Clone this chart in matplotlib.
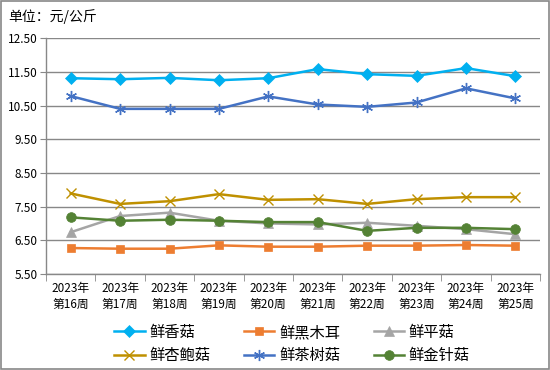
import matplotlib
matplotlib.use("Agg")
import matplotlib.pyplot as plt
import numpy as np

plt.rcParams['font.family'] = ['Noto Sans CJK SC', 'DejaVu Sans']

weeks = ['2023年\n第16周', '2023年\n第17周', '2023年\n第18周', '2023年\n第19周', '2023年\n第20周',
         '2023年\n第21周', '2023年\n第22周', '2023年\n第23周', '2023年\n第24周', '2023年\n第25周']

xianggu = [11.31, 11.28, 11.32, 11.25, 11.31, 11.58, 11.43, 11.38, 11.61, 11.37]
heimuer = [6.27, 6.25, 6.25, 6.35, 6.31, 6.31, 6.34, 6.34, 6.36, 6.34]
pinggu = [6.74, 7.22, 7.32, 7.08, 7.00, 6.97, 7.02, 6.93, 6.83, 6.68]
xingbaogu = [7.89, 7.58, 7.66, 7.87, 7.70, 7.72, 7.58, 7.72, 7.78, 7.78]
chashugu = [10.78, 10.40, 10.40, 10.40, 10.77, 10.53, 10.46, 10.59, 11.01, 10.71]
jinzhengu = [7.18, 7.08, 7.11, 7.08, 7.04, 7.04, 6.78, 6.87, 6.87, 6.83]

series = [
    ('鲜香菇', xianggu, '#00B0F0', 'D', 6),
    ('鲜黑木耳', heimuer, '#ED7D31', 's', 6),
    ('鲜平菇', pinggu, '#A5A5A5', '^', 7),
    ('鲜杏鲍菇', xingbaogu, '#BF9000', 'x', 7),
    ('鲜茶树菇', chashugu, '#4472C4', (6, 2, 0), 8),
    ('鲜金针菇', jinzhengu, '#548235', 'o', 7),
]

fig = plt.figure(figsize=(5.5, 3.7), dpi=100)
ax = fig.add_axes([0.0836, 0.2595, 0.8984, 0.6375])

x = np.arange(len(weeks))
handles = []
for name, vals, color, marker, ms in series:
    h, = ax.plot(x, vals, color=color, lw=1.8, marker=marker, ms=ms,
                 markeredgewidth=1.0 if marker in ('x', (6, 2, 0)) else 0.5,
                 markeredgecolor=color, label=name)
    handles.append(h)

ax.set_xlim(-0.5, len(weeks) - 0.5)
ax.set_ylim(5.5, 12.5)
ax.set_yticks(np.arange(5.5, 12.51, 1.0))
ax.set_yticklabels(['%.2f' % v for v in np.arange(5.5, 12.51, 1.0)], fontsize=8.5)
ax.set_xticks(x)
ax.set_xticklabels(weeks, fontsize=8.5, linespacing=1.25)
ax.set_xticks(np.arange(-0.5, len(weeks), 1.0), minor=True)
ax.tick_params(axis='x', which='major', length=0, pad=6)
ax.tick_params(axis='x', which='minor', length=5, color='#888888')
ax.tick_params(axis='y', length=4, color='#888888', pad=2)
ax.grid(axis='y', color='#888888', lw=1.0)
ax.set_axisbelow(True)
for s in ['top', 'right']:
    ax.spines[s].set_visible(False)
for s in ['left', 'bottom']:
    ax.spines[s].set_color('#888888')
    ax.spines[s].set_linewidth(1.0)

fig.text(0.015, 0.955, '单位：元/公斤', fontsize=10, va='center', ha='left')

# legend fills column-wise, so reorder to read row-wise
order = [0, 3, 1, 4, 2, 5]
ax.legend([handles[i] for i in order], [series[i][0] for i in order],
          loc='upper left', bbox_to_anchor=(0.11, -0.153), ncol=3, frameon=False,
          fontsize=11, handlelength=2.0, handletextpad=0.3, columnspacing=2.2,
          labelspacing=0.4)

fig.patches.append(plt.Rectangle((0.001, 0.002), 0.997, 0.995, transform=fig.transFigure,
                                 fill=False, edgecolor='#888888', lw=1.2))

fig.savefig('out.png', dpi=100)
